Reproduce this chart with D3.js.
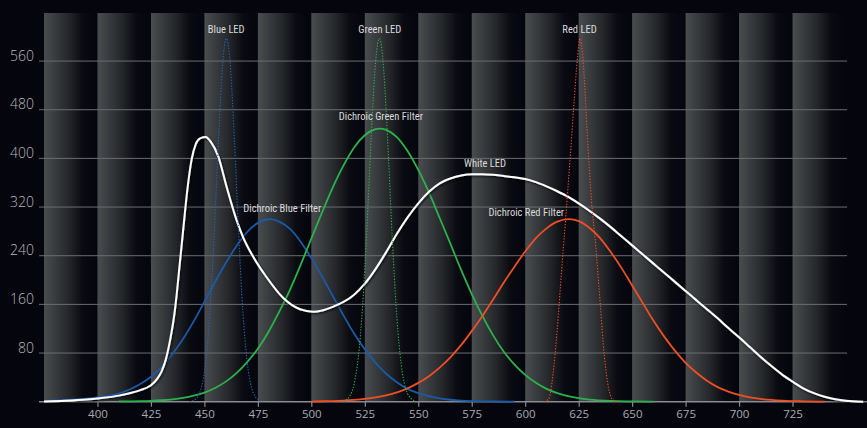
<!DOCTYPE html>
<html>
<head>
<meta charset="utf-8">
<script src="https://cdn.jsdelivr.net/npm/d3@7"></script>
<style>
  html, body { margin: 0; padding: 0; background: #04050d; }
  svg { display: block; }
</style>
</head>
<body>
<svg id="chart" width="867" height="428"></svg>
<script>
'use strict';

// wavelength ticks (nm) and intensity ticks
const xTicks = [400, 425, 450, 475, 500, 525, 550, 575, 600, 625, 650, 675, 700, 725];
const yTicks = [80, 160, 240, 320, 400, 480, 560];

// [wavelength nm, intensity]
const whiteLed = [
  [375, 0.5], [385, 1.5], [395, 3.5], [401, 5.6], [410, 10], [415, 14], [420, 19], [425, 27],
  [428, 38], [430, 50], [432, 70], [434, 102], [436, 145], [437, 175], [438, 210], [440, 280],
  [442, 348], [444, 398], [446, 424], [448, 433], [450.6, 435], [453, 427], [456.5, 403],
  [460.4, 353], [465, 299], [468, 271], [473, 237], [479, 205], [487, 170], [494.7, 152],
  [500.9, 148], [505, 150], [510, 156], [515, 164], [520, 176], [525, 194], [530, 218],
  [535, 246], [540, 276], [545, 303], [550, 326], [555, 345], [560, 359], [565, 367],
  [570, 372], [575, 374], [580, 374], [585, 373], [590, 371], [595, 369], [600, 366],
  [605, 361], [610, 354], [615, 346], [620, 337], [625, 326], [630, 314], [635, 301],
  [640, 287], [645, 272], [650, 257], [655, 242], [660, 227], [665, 212], [670, 197],
  [675, 182], [680, 167], [685, 152], [690, 137], [695, 121], [700, 106], [705, 90],
  [710, 74], [715, 59], [720, 45], [725, 33], [730, 22], [735, 14], [740, 8], [745, 4],
  [750, 1.5], [758, 0]
];

const blueFilter = [
  [375, 1.5], [380, 2], [385, 2.8], [390, 3.8], [395, 5.2], [400, 7.2], [405, 9.5], [410, 13.5],
  [415, 20], [420, 29], [425, 41], [430, 57], [435, 78], [440, 103], [445, 132], [450, 164],
  [455, 197], [460, 228], [465, 256], [470, 279], [475, 294], [480.7, 300], [485, 296],
  [490, 284], [495, 263], [500, 236], [505, 206], [510, 174], [515, 142], [520, 112],
  [525, 86], [530, 64], [535, 46], [540, 32], [545, 21], [550, 14], [555, 9], [560, 5.4],
  [565, 3.2], [570, 1.8], [575, 1], [585, 0.3], [595, 0]
];

const greenFilter = [
  [410, 0.5], [420, 0.9], [425, 1.4], [430, 2.4], [435, 3.9], [440, 6.3], [445, 9.9], [450, 15],
  [455, 22.6], [460, 33], [465, 47], [470, 65], [475, 87], [480, 115], [485, 148], [490, 184],
  [495, 225], [500, 268], [505, 311], [510, 352], [515, 388], [520, 418], [525, 438],
  [530, 448], [532, 449], [535, 447], [540, 435], [545, 412], [550, 381], [555, 344],
  [560, 302], [565, 260], [570, 217], [575, 177], [580, 141], [585, 109], [590, 82],
  [595, 61], [600, 44], [605, 31], [610, 21], [615, 14], [620, 9.1], [625, 5.7], [630, 3.5],
  [640, 1.3], [650, 0.5], [660, 0]
];

const redFilter = [
  [500, 0], [505, 0.7], [510, 1.1], [515, 1.8], [520, 2.9], [525, 4.5], [530, 7], [535, 10.5],
  [540, 15.3], [545, 22], [550, 31], [555, 42], [560, 56], [565, 73], [570, 93], [575, 116],
  [580, 141], [585, 168], [590, 196], [595, 222], [600, 247], [605, 269], [610, 285],
  [615, 296], [620.5, 300], [625, 297], [630, 286], [635, 269], [640, 246], [645, 220],
  [650, 191], [655, 162], [660, 133], [665, 107], [670, 84], [675, 64], [680, 48], [685, 34.5],
  [690, 24], [695, 16.7], [700, 11.2], [705, 7.3], [710, 4.6], [715, 2.9], [720, 1.7],
  [725, 1], [730, 0.6], [740, 0]
];

const blueLed = [
  [443, 0], [444, 1.1], [446, 4.7], [448, 16.6], [450, 48.5], [452, 117], [454, 234],
  [456, 386], [458, 527], [459, 574], [460.3, 597], [461, 590], [462, 558], [464, 432],
  [466, 277], [468, 147], [470, 65], [472, 23.4], [474, 7], [476, 1.8], [477, 0]
];

const greenLed = [
  [515, 0], [516, 2.6], [518, 9.5], [520, 29], [522, 74], [524, 159], [526, 287], [528, 436],
  [530, 557], [531, 589], [531.8, 597], [533, 579], [534, 537], [536, 407], [538, 258],
  [540, 138], [542, 62], [544, 23], [546, 7.5], [548, 2], [549, 0]
];

const redLed = [
  [609, 0], [611, 5], [613, 45], [615, 120], [617, 215], [619, 305], [621, 400], [623, 500],
  [624.5, 568], [625.6, 597], [627, 565], [629, 440], [631, 330], [633, 255], [635, 165],
  [637, 75], [639, 22], [641, 3], [643, 0]
];

const annotations = [
  { text: 'Blue LED', nm: 460.2, v: 606 },
  { text: 'Green LED', nm: 532, v: 606 },
  { text: 'Red LED', nm: 625.4, v: 606 },
  { text: 'Dichroic Green Filter', nm: 532.5, v: 463 },
  { text: 'White LED', nm: 581.2, v: 386 },
  { text: 'Dichroic Red Filter', nm: 600.5, v: 305 },
  { text: 'Dichroic Blue Filter', nm: 486.4, v: 312 }
];

const svg = d3.select('#chart');
const W = 867, H = 428;

svg.append('rect').attr('width', W).attr('height', H).attr('fill', '#04050d');

const x = d3.scaleLinear().domain([375, 750]).range([44, 846]);
const y = d3.scaleLinear().domain([0, 640]).range([401.7, 12.4]);

const defs = svg.append('defs');
const grad = defs.append('linearGradient').attr('id', 'stripe')
  .attr('x1', '0%').attr('x2', '100%').attr('y1', '0%').attr('y2', '0%');
[[0, '#4a4d50'], [0.12, '#404346'], [0.45, '#25272a'], [0.72, '#0a0b11'], [1, '#04050d']]
  .forEach(s => grad.append('stop').attr('offset', s[0]).attr('stop-color', s[1]));

const shadow = defs.append('filter').attr('id', 'shadow')
  .attr('x', '-5%').attr('y', '-5%').attr('width', '110%').attr('height', '110%');
shadow.append('feDropShadow').attr('dx', 1).attr('dy', 1.2)
  .attr('stdDeviation', 0.8).attr('flood-color', '#000').attr('flood-opacity', 0.9);

// background stripes, one per 25 nm band
const bands = [375].concat(xTicks);
svg.append('g').selectAll('rect')
  .data(bands)
  .enter().append('rect')
  .attr('x', d => x(d))
  .attr('y', y(640) + 0.6)
  .attr('width', x(425) - x(400))
  .attr('height', y(0) - y(640) - 0.6)
  .attr('fill', 'url(#stripe)');

// grid
svg.append('g').selectAll('line')
  .data(yTicks)
  .enter().append('line')
  .attr('x1', 39).attr('x2', 847)
  .attr('y1', d => y(d)).attr('y2', d => y(d))
  .attr('stroke', '#6b6d70').attr('stroke-width', 1);

// y labels
svg.append('g').selectAll('text')
  .data(yTicks)
  .enter().append('text')
  .attr('x', 34)
  .attr('y', d => y(d) - 0.5)
  .attr('text-anchor', 'end')
  .attr('font-family', '"Open Sans", sans-serif')
  .attr('font-weight', 300)
  .attr('font-size', 14)
  .attr('fill', '#b9babc')
  .text(d => d);

// x axis
const xAxis = svg.append('g')
  .attr('transform', `translate(0,${y(0)})`)
  .call(d3.axisBottom(x).tickValues(xTicks).tickSize(5).tickPadding(3).tickSizeOuter(0));
xAxis.select('.domain').remove();
xAxis.selectAll('.tick line').attr('stroke', '#8a8c8f').attr('stroke-width', 1.2);
xAxis.selectAll('.tick text')
  .attr('font-family', '"Open Sans", sans-serif')
  .attr('font-size', 11.5)
  .attr('fill', '#a9abae');

svg.append('line')
  .attr('x1', 39).attr('x2', W)
  .attr('y1', y(0)).attr('y2', y(0))
  .attr('stroke', '#8a8c8f').attr('stroke-width', 1.6);

const line = d3.line()
  .x(d => x(d[0]))
  .y(d => y(d[1]))
  .curve(d3.curveMonotoneX);

const curves = svg.append('g').attr('fill', 'none');

[[blueFilter, '#1a5aa9'], [greenFilter, '#2bb24c'], [redFilter, '#ef4f24']].forEach(c => {
  curves.append('path').datum(c[0])
    .attr('d', line)
    .attr('stroke', c[1])
    .attr('stroke-width', 1.8);
});

curves.append('path').datum(whiteLed)
  .attr('d', line)
  .attr('stroke', '#ffffff')
  .attr('stroke-width', 2)
  .attr('filter', 'url(#shadow)');

[[blueLed, '#2364b8'], [greenLed, '#2bb24c'], [redLed, '#ef4f24']].forEach(c => {
  curves.append('path').datum(c[0])
    .attr('d', line)
    .attr('stroke', c[1])
    .attr('stroke-width', 1.1)
    .attr('stroke-dasharray', '1.3,1.6');
});

// annotations
svg.append('g').selectAll('text')
  .data(annotations)
  .enter().append('text')
  .attr('x', d => x(d.nm))
  .attr('y', d => y(d.v))
  .attr('text-anchor', 'middle')
  .attr('font-family', '"Liberation Sans Narrow", "Roboto Condensed", "Open Sans", sans-serif')
  .attr('font-size', 10.5)
  .attr('fill', '#d9dadb')
  .text(d => d.text);
</script>
</body>
</html>
